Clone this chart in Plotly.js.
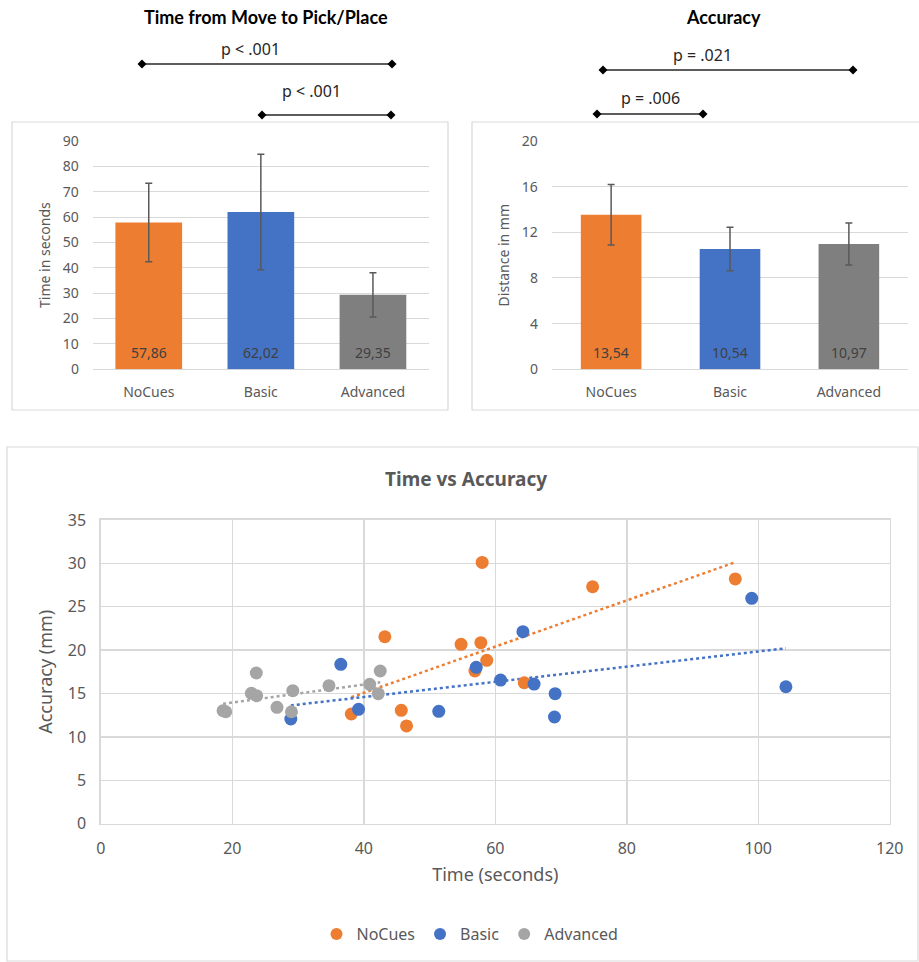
<!DOCTYPE html>
<html>
<head>
<meta charset="utf-8">
<script src="https://cdn.plot.ly/plotly-3.0.1.min.js"></script>
<style>html,body{margin:0;padding:0;background:#fff;}#chart{width:919px;height:962px;}</style>
</head>
<body>
<div id="chart"></div>
<script>
// ---------- data ----------
const categories = ['NoCues', 'Basic', 'Advanced'];
const timeMeans = [57.86, 62.02, 29.35];
const timeErr = [15.5, 22.8, 8.7];
const accMeans = [13.54, 10.54, 10.97];
const accErr = [2.65, 1.9, 1.84];

const noCuesTime = [38.1, 43.2, 45.7, 46.5, 54.8, 56.9, 57.8, 58.0, 58.7, 64.4, 74.8, 96.5];
const noCuesAcc  = [12.64, 21.54, 13.06, 11.26, 20.67, 17.59, 20.85, 30.1, 18.82, 16.24, 27.3, 28.2];
const basicTime  = [28.9, 36.5, 39.2, 51.4, 57.1, 60.8, 64.2, 65.9, 69.1, 69.0, 99.0, 104.2];
const basicAcc   = [12.06, 18.36, 13.18, 12.95, 18.02, 16.55, 22.12, 16.09, 14.98, 12.29, 25.97, 15.78];
const advTime    = [18.6, 19.0, 23.65, 22.9, 23.7, 26.8, 29.2, 29.0, 34.7, 40.9, 42.5, 42.2];
const advAcc     = [13.02, 12.9, 17.36, 15.02, 14.75, 13.41, 15.32, 12.9, 15.9, 16.06, 17.59, 14.98];

const timeTicks = [0, 10, 20, 30, 40, 50, 60, 70, 80, 90];
const accTicks = [0, 4, 8, 12, 16, 20];

const pTime = ['p &lt; .001', 'p &lt; .001'];
const pAcc = ['p = .021', 'p = .006'];

// ---------- styles ----------
const ORANGE = '#ED7D31', BLUE = '#4472C4', GRAY = '#A5A5A5', DGRAY = '#7F7F7F';
const TXT = '#595959', GRID = '#D9D9D9';
const FONT = '"Noto Sans", "Open Sans", sans-serif';
const TFONT = 'Lato, "Noto Sans", sans-serif';
const W = 919, H = 962;
const fx = p => p / W;
const fy = p => 1 - p / H;
const fmt = v => v.toFixed(2).replace('.', ',');

function fit(xs, ys) {
  const n = xs.length;
  const mx = xs.reduce((a, b) => a + b, 0) / n;
  const my = ys.reduce((a, b) => a + b, 0) / n;
  let sxy = 0, sxx = 0;
  for (let i = 0; i < n; i++) { sxy += (xs[i] - mx) * (ys[i] - my); sxx += (xs[i] - mx) ** 2; }
  const b = sxy / sxx, a = my - b * mx;
  const x0 = Math.min(...xs), x1 = Math.max(...xs);
  return { x: [x0, x1], y: [a + b * x0, a + b * x1] };
}

const traces = [];
traces.push({
  type: 'bar', x: categories, y: timeMeans, xaxis: 'x', yaxis: 'y', width: 0.595,
  marker: { color: [ORANGE, BLUE, DGRAY] }, showlegend: false, hoverinfo: 'x+y',
  error_y: { type: 'data', array: timeErr, color: TXT, thickness: 1.5, width: 3.5 }
});
traces.push({
  type: 'bar', x: categories, y: accMeans, xaxis: 'x2', yaxis: 'y2', width: 0.51,
  marker: { color: [ORANGE, BLUE, DGRAY] }, showlegend: false, hoverinfo: 'x+y',
  error_y: { type: 'data', array: accErr, color: TXT, thickness: 1.5, width: 3.5 }
});
const series = [
  { name: 'NoCues', x: noCuesTime, y: noCuesAcc, c: ORANGE },
  { name: 'Basic', x: basicTime, y: basicAcc, c: BLUE },
  { name: 'Advanced', x: advTime, y: advAcc, c: GRAY }
];
series.forEach(s => {
  const f = fit(s.x, s.y);
  traces.push({
    type: 'scatter', mode: 'lines', x: f.x, y: f.y, xaxis: 'x3', yaxis: 'y3',
    line: { color: s.c, dash: 'dot', width: 2.5 }, showlegend: false, hoverinfo: 'skip'
  });
});
series.forEach(s => {
  traces.push({
    type: 'scatter', mode: 'markers', name: s.name, x: s.x, y: s.y, xaxis: 'x3', yaxis: 'y3',
    marker: { color: s.c, size: 13, line: { width: 0 } }
  });
});

const tickAxis = (extra) => Object.assign({
  showgrid: true, gridcolor: GRID, gridwidth: 1, zeroline: false, showline: false,
  tickfont: { family: FONT, size: 14, color: TXT }, ticks: 'outside', ticklen: 10,
  tickcolor: 'rgba(0,0,0,0)', fixedrange: true
}, extra);

const annotations = [];
const ann = (x, y, text, font) => annotations.push({ xref: 'paper', yref: 'paper', x: fx(x), y: fy(y), xanchor: 'center', yanchor: 'middle', text, showarrow: false, font });
ann(266, 17, '<b>Time from Move to Pick/Place</b>', { family: TFONT, size: 18, color: '#000' });
ann(723, 17, '<b>Accuracy</b>', { family: TFONT, size: 18, color: '#000' });
ann(466, 479, '<b>Time vs Accuracy</b>', { family: FONT, size: 19, color: TXT });
categories.forEach((c, i) => {
  annotations.push({ xref: 'x', yref: 'y', x: c, y: 0, yshift: 17, xanchor: 'center', yanchor: 'middle', text: fmt(timeMeans[i]), showarrow: false, font: { family: FONT, size: 14, color: '#404040' } });
  annotations.push({ xref: 'x2', yref: 'y2', x: c, y: 0, yshift: 17, xanchor: 'center', yanchor: 'middle', text: fmt(accMeans[i]), showarrow: false, font: { family: FONT, size: 14, color: '#404040' } });
});
const brackets = [
  { x0: 142, x1: 392, y: 64, tx: 250, ty: 49, t: pTime[0] },
  { x0: 262, x1: 391, y: 115, tx: 311, ty: 91, t: pTime[1] },
  { x0: 603, x1: 853, y: 70, tx: 702, ty: 55, t: pAcc[0] },
  { x0: 597, x1: 703, y: 114, tx: 650, ty: 98, t: pAcc[1] }
];
const shapes = [];
const diamond = (cx, cy, r) => `M ${fx(cx - r)} ${fy(cy)} L ${fx(cx)} ${fy(cy - r)} L ${fx(cx + r)} ${fy(cy)} L ${fx(cx)} ${fy(cy + r)} Z`;
brackets.forEach(b => {
  shapes.push({ type: 'line', xref: 'paper', yref: 'paper', x0: fx(b.x0), x1: fx(b.x1), y0: fy(b.y), y1: fy(b.y), line: { color: '#262626', width: 1.5 } });
  shapes.push({ type: 'path', xref: 'paper', yref: 'paper', path: diamond(b.x0, b.y, 4.5), fillcolor: '#000', line: { width: 0 } });
  shapes.push({ type: 'path', xref: 'paper', yref: 'paper', path: diamond(b.x1, b.y, 4.5), fillcolor: '#000', line: { width: 0 } });
  ann(b.tx, b.ty, b.t, { family: FONT, size: 16, color: '#262626' });
});
const panels = [[12, 122, 448, 410], [472, 122, 925, 410], [7, 447, 918, 961]];
panels.forEach(p => shapes.push({ type: 'rect', xref: 'paper', yref: 'paper', x0: fx(p[0]), x1: fx(p[2]), y0: fy(p[3]), y1: fy(p[1]), line: { color: GRID, width: 1.2 }, fillcolor: 'rgba(0,0,0,0)', layer: 'below' }));

const layout = {
  width: W, height: H, margin: { l: 0, r: 0, t: 0, b: 0 },
  paper_bgcolor: '#fff', plot_bgcolor: '#fff', separators: ',.',
  font: { family: FONT, color: TXT },
  xaxis: tickAxis({ domain: [fx(92.7), fx(429)], anchor: 'y', showgrid: false, type: 'category' }),
  yaxis: tickAxis({ domain: [fy(369.3), fy(141)], anchor: 'x', range: [0, 90], tickvals: timeTicks,
    zeroline: true, zerolinecolor: GRID, zerolinewidth: 1,
    title: { text: 'Time in seconds', font: { family: FONT, size: 14, color: TXT }, standoff: 8 } }),
  xaxis2: tickAxis({ domain: [fx(551.7), fx(908.3)], anchor: 'y2', showgrid: false, type: 'category' }),
  yaxis2: tickAxis({ domain: [fy(369.3), fy(141)], anchor: 'x2', range: [0, 20], tickvals: accTicks,
    zeroline: true, zerolinecolor: GRID, zerolinewidth: 1,
    title: { text: 'Distance in mm', font: { family: FONT, size: 14, color: TXT }, standoff: 8 } }),
  xaxis3: tickAxis({ domain: [fx(100.8), fx(889.8)], anchor: 'y3', range: [0, 120], dtick: 20, gridwidth: 1.5,
    showline: true, mirror: true, linecolor: GRID, linewidth: 1.5,
    tickfont: { family: FONT, size: 16, color: TXT },
    title: { text: 'Time (seconds)', font: { family: FONT, size: 18, color: TXT }, standoff: 10 } }),
  yaxis3: tickAxis({ domain: [fy(823.7), fy(519.9)], anchor: 'x3', range: [0, 35], dtick: 5, gridwidth: 1.5,
    showline: true, mirror: true, linecolor: GRID, linewidth: 1.5,
    tickfont: { family: FONT, size: 16, color: TXT },
    title: { text: 'Accuracy (mm)', font: { family: FONT, size: 18, color: TXT }, standoff: 10 } }),
  showlegend: true,
  legend: { orientation: 'h', x: fx(470), xanchor: 'center', y: fy(934), yanchor: 'middle',
    font: { family: FONT, size: 16, color: TXT }, bgcolor: 'rgba(0,0,0,0)', itemsizing: 'constant' },
  annotations: annotations, shapes: shapes
};

Plotly.newPlot('chart', traces, layout, { displayModeBar: false, staticPlot: true });
</script>
</body>
</html>
